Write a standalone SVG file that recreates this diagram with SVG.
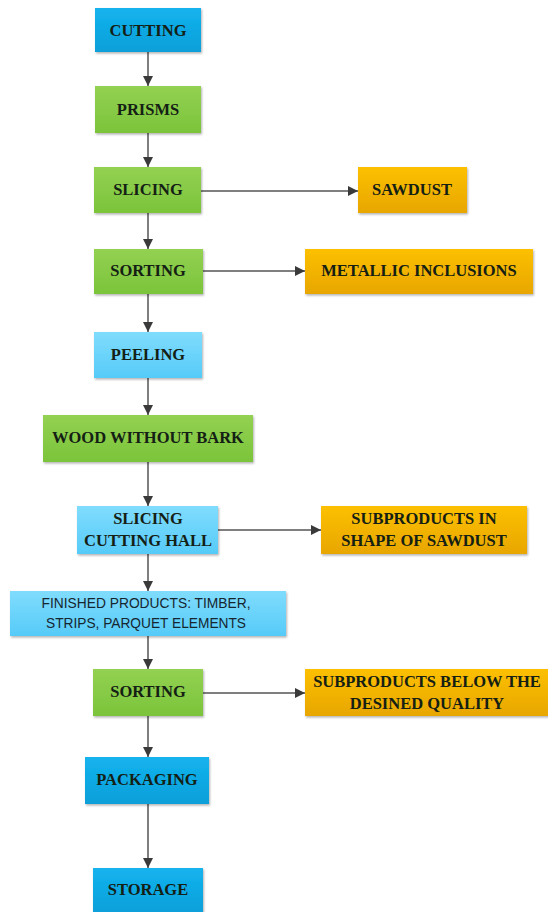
<svg xmlns="http://www.w3.org/2000/svg" width="548" height="912" viewBox="0 0 548 912">
<defs>
<linearGradient id="gBlue" x1="0" y1="0" x2="0" y2="1"><stop offset="0" stop-color="#14b3ef"/><stop offset="1" stop-color="#0a9fd9"/></linearGradient>
<linearGradient id="gLight" x1="0" y1="0" x2="0" y2="1"><stop offset="0" stop-color="#80dcfd"/><stop offset="1" stop-color="#56cbf8"/></linearGradient>
<linearGradient id="gGreen" x1="0" y1="0" x2="0" y2="1"><stop offset="0" stop-color="#93d152"/><stop offset="1" stop-color="#7bc43a"/></linearGradient>
<linearGradient id="gOrange" x1="0" y1="0" x2="0" y2="1"><stop offset="0" stop-color="#fdc002"/><stop offset="1" stop-color="#e8a600"/></linearGradient>
<filter id="sh" x="-10%" y="-20%" width="120%" height="150%"><feDropShadow dx="1" dy="1.5" stdDeviation="1.2" flood-color="#000" flood-opacity="0.3"/></filter>
<marker id="arr" markerWidth="11" markerHeight="11" refX="10" refY="5.5" orient="auto" markerUnits="userSpaceOnUse"><path d="M0,0.5 L10,5.5 L0,10.5 Z" fill="#3a3a3a"/></marker>
</defs>
<style>
.blue{fill:url(#gBlue);filter:url(#sh)}
.light{fill:url(#gLight);filter:url(#sh)}
.green{fill:url(#gGreen);filter:url(#sh)}
.orange{fill:url(#gOrange);filter:url(#sh)}
text{font-family:"Liberation Serif","Times New Roman",serif;font-size:16.5px;font-weight:bold;fill:#142014;text-anchor:middle;dominant-baseline:central}
text.sans{font-family:"Liberation Sans",Arial,sans-serif;font-size:14.5px;font-weight:normal;fill:#162630}
.c{stroke:#555;stroke-width:1.5;fill:none;marker-end:url(#arr)}
</style>
<g id="connectors">
<line class="c" x1="148" y1="52" x2="148" y2="86"/>
<line class="c" x1="148" y1="133" x2="148" y2="167"/>
<line class="c" x1="148" y1="213" x2="148" y2="249"/>
<line class="c" x1="148" y1="294" x2="148" y2="332"/>
<line class="c" x1="148" y1="378" x2="148" y2="415"/>
<line class="c" x1="148" y1="462" x2="148" y2="506"/>
<line class="c" x1="148" y1="554" x2="148" y2="591"/>
<line class="c" x1="148" y1="636" x2="148" y2="669"/>
<line class="c" x1="148" y1="716" x2="148" y2="757"/>
<line class="c" x1="148" y1="804" x2="148" y2="868"/>
<line class="c" x1="201" y1="191" x2="358" y2="191"/>
<line class="c" x1="203" y1="271" x2="305" y2="271"/>
<line class="c" x1="218" y1="530" x2="321" y2="530"/>
<line class="c" x1="203" y1="693" x2="305" y2="693"/>
</g>
<g id="cutting"><rect class="blue" x="95" y="8" width="106" height="44"/><text x="148" y="30">CUTTING</text></g>
<g id="prisms"><rect class="green" x="95" y="86" width="106" height="47"/><text x="148" y="109">PRISMS</text></g>
<g id="slicing"><rect class="green" x="94" y="167" width="107" height="46"/><text x="148" y="189">SLICING</text></g>
<g id="sawdust"><rect class="orange" x="358" y="167" width="109" height="46"/><text x="412" y="189">SAWDUST</text></g>
<g id="sorting1"><rect class="green" x="94" y="249" width="109" height="45"/><text x="148" y="270">SORTING</text></g>
<g id="metallic"><rect class="orange" x="305" y="249" width="228" height="45"/><text x="419" y="270">METALLIC INCLUSIONS</text></g>
<g id="peeling"><rect class="light" x="94" y="332" width="108" height="46"/><text x="148" y="354">PEELING</text></g>
<g id="wood"><rect class="green" x="43" y="415" width="210" height="47"/><text x="148" y="437">WOOD WITHOUT BARK</text></g>
<g id="slicing-hall"><rect class="light" x="77" y="506" width="141" height="48"/><text x="148" y="518">SLICING</text><text x="148" y="540">CUTTING HALL</text></g>
<g id="subproducts-sawdust"><rect class="orange" x="321" y="506" width="206" height="48"/><text x="424" y="518">SUBPRODUCTS IN</text><text x="424" y="540">SHAPE OF SAWDUST</text></g>
<g id="finished"><rect class="light" x="10" y="591" width="276" height="45"/><text class="sans" x="146" y="603" textLength="209" lengthAdjust="spacingAndGlyphs">FINISHED PRODUCTS: TIMBER,</text><text class="sans" x="146" y="623" textLength="200" lengthAdjust="spacingAndGlyphs">STRIPS, PARQUET ELEMENTS</text></g>
<g id="sorting2"><rect class="green" x="93" y="669" width="110" height="47"/><text x="148" y="691">SORTING</text></g>
<g id="subproducts-quality"><rect class="orange" x="305" y="669" width="245" height="47"/><text x="427" y="681">SUBPRODUCTS BELOW THE</text><text x="427" y="703">DESINED QUALITY</text></g>
<g id="packaging"><rect class="blue" x="85" y="757" width="124" height="47"/><text x="147" y="779">PACKAGING</text></g>
<g id="storage"><rect class="blue" x="93" y="868" width="110" height="46"/><text x="148" y="889">STORAGE</text></g>
</svg>
